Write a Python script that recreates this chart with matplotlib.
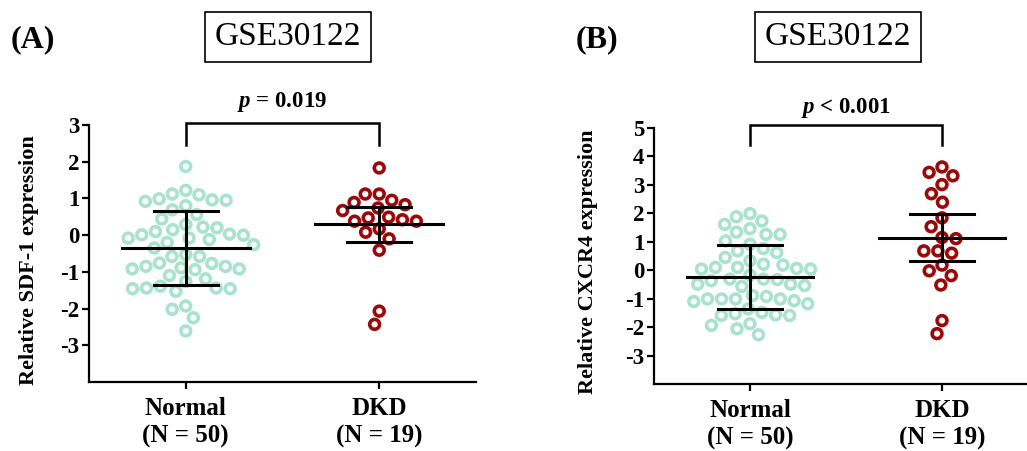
import numpy as np
import matplotlib
matplotlib.use("Agg")
import matplotlib.pyplot as plt

plt.rcParams['font.family'] = ['Liberation Serif', 'DejaVu Serif']
plt.rcParams['mathtext.fontset'] = 'custom'
plt.rcParams['mathtext.rm'] = 'Liberation Serif'
plt.rcParams['mathtext.bf'] = 'Liberation Serif:bold'
plt.rcParams['mathtext.it'] = 'Liberation Serif:italic:bold'
plt.rcParams['mathtext.bfit'] = 'Liberation Serif:italic:bold'

# ---------------- data ----------------
categories = ["Normal\n(N = 50)", "DKD\n(N = 19)"]

sdf1_normal = [1.87, 1.12, 0.99, 0.95, 0.92, 0.96, 1.10, 1.22, 0.80, 0.69,
               0.44, 0.56, 0.22, 0.15, 0.03, 0.00, -0.08, 0.01, 0.10, 0.20,
               0.29, -0.12, -0.26, -0.20, -0.08, -0.53, -0.35, -0.58, -0.76, -0.85,
               -0.92, -0.94, -0.92, -0.89, -0.85, -0.77, -0.58, -1.10, -1.26, -1.44,
               -1.46, -1.53, -1.46, -1.44, -1.39, -1.19, -1.93, -2.02, -2.25, -2.61]
sdf1_dkd = [1.83, 1.12, 0.83, 0.95, 1.12, 0.89, 0.67, 0.74, 0.49, 0.42,
            0.38, 0.38, 0.47, 0.17, 0.08, -0.10, -0.41, -2.07, -2.43]

cxcr4_normal = [1.99, 1.88, 1.73, 1.61, 1.26, 1.34, 1.46, 1.26, 1.03, 0.76,
                0.68, 0.91, 0.62, 0.45, 0.21, 0.10, 0.18, 0.33, 0.06, 0.04,
                -0.17, 0.04, 0.10, -0.37, -0.31, -0.31, -0.33, -0.49, -0.57, -0.54,
                -0.49, -0.89, -1.01, -1.01, -1.01, -0.92, -1.01, -1.10, -1.18, -1.07,
                -1.36, -1.57, -1.59, -1.59, -1.53, -1.48, -1.94, -2.06, -1.88, -2.27]
cxcr4_dkd = [3.63, 3.32, 3.44, 3.01, 2.69, 2.39, 1.84, 1.53, 1.15, 1.11,
             0.68, 0.60, 0.68, 0.18, -0.19, -0.02, -0.52, -1.77, -2.23]

# summary lines: centre, upper, lower
sdf1_summary = [(-0.35, 0.65, -1.36), (0.29, 0.76, -0.20)]
cxcr4_summary = [(-0.25, 0.88, -1.38), (1.12, 1.96, 0.32)]

p_texts = ["= 0.019", "< 0.001"]
ylabels = ["Relative SDF-1 expression", "Relative CXCR4 expression"]
yticks_A = [-3, -2, -1, 0, 1, 2, 3]
yticks_B = [-3, -2, -1, 0, 1, 2, 3, 4, 5]
dataset = "GSE30122"
panel_letters = ["(A)", "(B)"]

col_normal = "#a9e2cd"
col_dkd = "#9b0a0a"

W, H = 1027, 451
fig = plt.figure(figsize=(W / 100, H / 100), dpi=100)


def beeswarm(vals, ax, diam_px):
    """Return x offsets (data units) so circles of diam_px do not overlap."""
    vals = np.asarray(vals, float)
    p0 = ax.transData.transform([(0, 0)])[0]
    p1 = ax.transData.transform([(1, 1)])[0]
    sx, sy = p1[0] - p0[0], p1[1] - p0[1]
    ypx = vals * sy
    order = np.argsort(-vals)
    placed = []
    xs = np.zeros(len(vals))
    for i in order:
        y = ypx[i]
        cands = [0.0]
        for (xj, yj) in placed:
            dy = abs(y - yj)
            if dy < diam_px:
                dx = np.sqrt(diam_px ** 2 - dy ** 2)
                cands += [xj + dx, xj - dx]
        cands = sorted(cands, key=lambda c: (abs(c), c))
        for c in cands:
            ok = all((c - xj) ** 2 + (y - yj) ** 2 >= diam_px ** 2 - 1e-6 for (xj, yj) in placed)
            if ok:
                xs[i] = c
                placed.append((c, y))
                break
    return xs / sx


def panel(rect, normal, dkd, summary, ylim, yticks, ylabel, ptxt, bracket, lab_xy):
    ax = fig.add_axes(rect)
    ax.set_xlim(-0.5, 1.5)
    ax.set_ylim(*ylim)
    for s in ["top", "right"]:
        ax.spines[s].set_visible(False)
    for s in ["left", "bottom"]:
        ax.spines[s].set_linewidth(1.6)
    ax.set_yticks(yticks)
    ax.set_yticklabels([str(t) for t in yticks], fontsize=16.5, fontweight="bold")
    ax.set_xticks([0, 1])
    ax.set_xticklabels(categories, fontsize=18, fontweight="bold", linespacing=1.25)
    ax.tick_params(axis="both", width=1.6, length=5, pad=2)
    ax.tick_params(axis="x", pad=6)
    ax.set_ylabel(ylabel, fontsize=16, fontweight="bold")
    ax.yaxis.set_label_coords(*lab_xy)

    for k, (vals, col) in enumerate([(normal, col_normal), (dkd, col_dkd)]):
        xo = beeswarm(vals, ax, 14)
        ax.scatter(k + xo, vals, s=50, facecolors="none", edgecolors=col,
                   linewidths=2.6, zorder=2, clip_on=False)
        c, up, lo = summary[k]
        ax.plot([k - 0.33, k + 0.33], [c, c], color="black", lw=2.2, zorder=3)
        ax.plot([k - 0.165, k + 0.165], [up, up], color="black", lw=2.2, zorder=3)
        ax.plot([k - 0.165, k + 0.165], [lo, lo], color="black", lw=2.2, zorder=3)
        ax.plot([k, k], [lo, up], color="black", lw=2.2, zorder=3)

    btop, bbot, ty = bracket
    ax.plot([0, 0, 1, 1], [bbot, btop, btop, bbot], color="black", lw=1.8,
            clip_on=False, solid_joinstyle="miter")
    ax.text(0.5, ty, r"$\mathbfit{p}$" + " " + ptxt, ha="center", va="center",
            fontsize=16.5, fontweight="bold")
    return ax


axA = panel([89 / W, 1 - 382 / H, (476 - 89) / W, (382 - 125) / H],
            sdf1_normal, sdf1_dkd, sdf1_summary, (-4, 3), yticks_A,
            ylabels[0], p_texts[0], (3.05, 2.45, 3.62), (-0.128, 0.475))
axB = panel([654 / W, 1 - 384 / H, (1038 - 654) / W, (384 - 128) / H],
            cxcr4_normal, cxcr4_dkd, cxcr4_summary, (-4, 5), yticks_B,
            ylabels[1], p_texts[1], (5.1, 4.4, 5.72), (-0.145, 0.477))

for cx, lx, letter in [(288, 33, panel_letters[0]), (838, 597, panel_letters[1])]:
    fig.text(cx / W, 1 - 37 / H, dataset, ha="center", va="center", fontsize=24,
             bbox=dict(boxstyle="square,pad=0.28", fc="white", ec="black", lw=1.2))
    fig.text(lx / W, 1 - 40 / H, letter, ha="center", va="center", fontsize=23,
             fontweight="bold")

fig.savefig("out.png", dpi=100)
